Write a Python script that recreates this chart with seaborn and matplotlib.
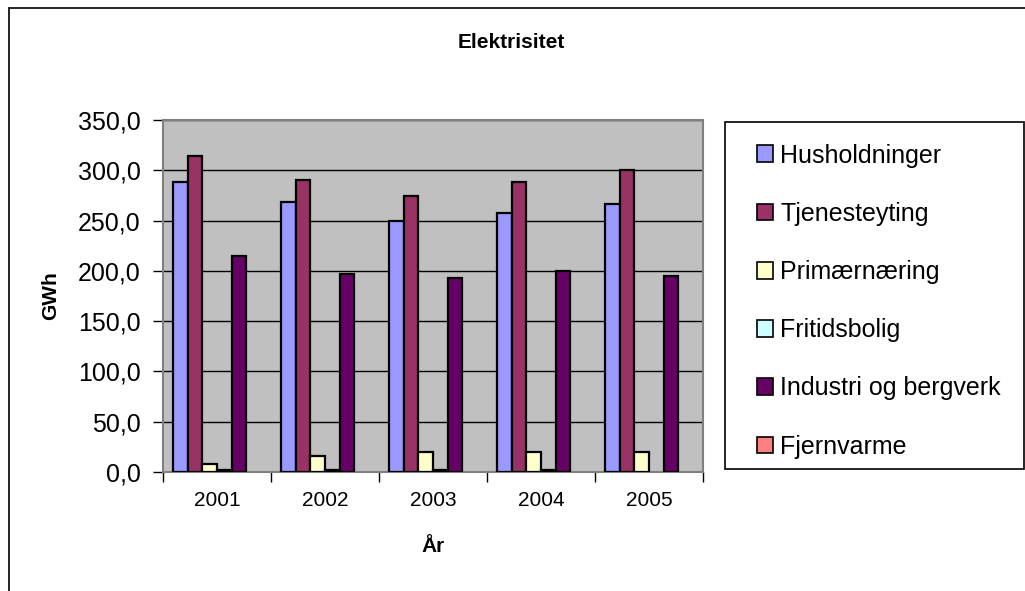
import pandas as pd
import seaborn as sns
import matplotlib.pyplot as plt
from matplotlib.lines import Line2D
from matplotlib.patches import Rectangle
from matplotlib.ticker import FuncFormatter, FixedLocator

# data
YEARS = ["2001", "2002", "2003", "2004", "2005"]
SERIES = ["Husholdninger", "Tjenesteyting", "Primærnæring", "Fritidsbolig",
          "Industri og bergverk", "Fjernvarme"]
husholdninger = [288, 268, 250, 258, 266]
tjenesteyting = [314, 290, 274, 288, 300]
primaernaering = [8, 16, 20, 20, 20]
fritidsbolig = [2, 2, 2, 2, 0]
industri = [215, 197, 193, 200, 195]
fjernvarme = [0, 0, 0, 0, 0]
COLORS = ["#9999FF", "#993366", "#FFFFCC", "#CCFFFF", "#660066", "#FF8080"]

values = [husholdninger, tjenesteyting, primaernaering, fritidsbolig, industri, fjernvarme]
rows = []
for name, vals in zip(SERIES, values):
    for year, v in zip(YEARS, vals):
        rows.append({"År": year, "GWh": v, "Serie": name})
df = pd.DataFrame(rows)

sns.set_style("white")
plt.rcParams["font.family"] = ["Liberation Sans", "DejaVu Sans"]
for key in ["text.color", "axes.labelcolor", "xtick.color", "ytick.color"]:
    plt.rcParams[key] = "black"

fig = plt.figure(figsize=(10.25, 5.91), dpi=100)
ax = fig.add_axes([163 / 1025, 1 - 472 / 591, 540 / 1025, 352 / 591])

sns.barplot(data=df, x="År", y="GWh", hue="Serie", hue_order=SERIES, order=YEARS,
            palette=COLORS, saturation=1, width=0.81, gap=0, edgecolor="black",
            linewidth=1.6, errorbar=None, ax=ax, zorder=3)

# empty bars should not leave a black stroke on the axis
for p in ax.patches:
    if p.get_height() == 0:
        p.set_linewidth(0)

ax.set_facecolor("#C0C0C0")
ax.set_ylim(0, 350)
ax.set_xlim(-0.5, len(YEARS) - 0.5)
ax.set_yticks(range(0, 351, 50))
ax.yaxis.set_major_formatter(FuncFormatter(lambda v, p: f"{v:.1f}".replace(".", ",")))
ax.grid(axis="y", color="black", linewidth=1.0, zorder=0)
ax.set_axisbelow(True)
for s in ax.spines.values():
    s.set_color("#808080")
    s.set_linewidth(1.5)

ax.tick_params(axis="y", which="major", length=7, width=1, color="black",
               labelsize=18, pad=9, left=True)
ax.tick_params(axis="x", which="major", length=0, labelsize=15, pad=14)
ax.xaxis.set_minor_locator(FixedLocator([i - 0.5 for i in range(len(YEARS) + 1)]))
ax.tick_params(axis="x", which="minor", length=7, width=1, color="black", bottom=True)

ax.set_xlabel("År", fontsize=15, fontweight="bold", labelpad=19)
ax.set_ylabel("GWh", fontsize=15, fontweight="bold", labelpad=13)

# legend in its own box on the right
handles, labels = ax.get_legend_handles_labels()
if ax.legend_:
    ax.legend_.remove()
fig.add_artist(Rectangle((725 / 1025, 1 - 469 / 591), 299 / 1025, 347 / 591,
                         transform=fig.transFigure, facecolor="white",
                         edgecolor="black", linewidth=1.2))
leg = fig.legend(handles, labels, loc="upper left",
                 bbox_to_anchor=(744 / 1025, 1 - 131 / 591),
                 frameon=False, fontsize=18, handlelength=0.65, handleheight=0.65,
                 handletextpad=0.3, labelspacing=1.37, borderpad=0)
for h in leg.legend_handles:
    h.set_edgecolor("black")
    h.set_linewidth(1.2)

fig.text(511 / 1025, 1 - 43 / 591, "Elektrisitet", ha="center", va="center",
         fontsize=15, fontweight="bold")

# outer chart frame (left and top edges visible)
fig.add_artist(Line2D([9 / 1025, 9 / 1025], [0, 1 - 8 / 591], transform=fig.transFigure,
                      color="black", linewidth=1.2))
fig.add_artist(Line2D([9 / 1025, 1], [1 - 8 / 591, 1 - 8 / 591], transform=fig.transFigure,
                      color="black", linewidth=1.2))

fig.savefig("out.png", dpi=100)
